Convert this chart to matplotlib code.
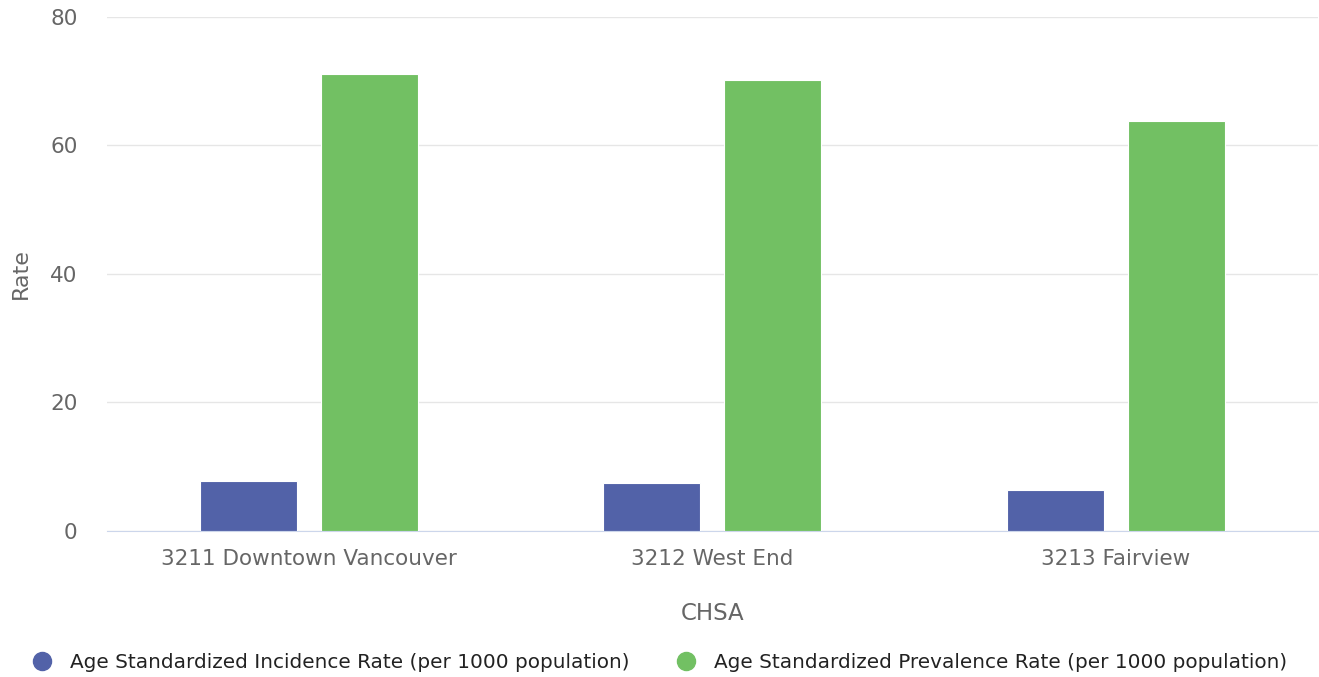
import numpy as np
import matplotlib.pyplot as plt
from matplotlib.lines import Line2D

categories = ['3211 Downtown Vancouver', '3212 West End', '3213 Fairview']
incidence = [7.7, 7.4, 6.3]
prevalence = [71.1, 70.2, 63.8]
series_names = ['Age Standardized Incidence Rate (per 1000 population)',
                'Age Standardized Prevalence Rate (per 1000 population)']
colors = ['#5262a8', '#72c063']
yticks = [0, 20, 40, 60, 80]

fig = plt.figure(figsize=(13.19, 6.77), dpi=100)
ax = fig.add_axes([0.081, 0.2157, 0.918, 0.7593])

x = np.arange(len(categories))
w = 0.24
gap = 0.06
ax.bar(x - (w + gap) / 2, incidence, width=w, color=colors[0], edgecolor='white', linewidth=0.8, zorder=3)
ax.bar(x + (w + gap) / 2, prevalence, width=w, color=colors[1], edgecolor='white', linewidth=0.8, zorder=3)

ax.set_xlim(-0.5, len(categories) - 0.5)
ax.set_ylim(0, 80)
ax.set_yticks(yticks)
ax.set_xticks(x)
ax.set_xticklabels(categories)
ax.grid(axis='y', color='#e6e6e6', linewidth=1, zorder=0)
for s in ['top', 'right', 'left']:
    ax.spines[s].set_visible(False)
ax.spines['bottom'].set_color('#ccd6eb')
ax.tick_params(axis='x', length=0, pad=13, labelsize=15.5, colors='#666666')
ax.tick_params(axis='y', length=0, pad=21, labelsize=15.5, colors='#666666')
ax.set_xlabel('CHSA', fontsize=16.5, color='#666666', labelpad=24)
ax.set_ylabel('Rate', fontsize=16, color='#666666', labelpad=14)

handles = [Line2D([], [], marker='o', linestyle='none', markersize=13,
                  markerfacecolor=c, markeredgecolor=c) for c in colors]
leg = fig.legend(handles, series_names, loc='center', bbox_to_anchor=(0.5, 0.022),
                 ncol=2, frameon=False, fontsize=14.4, handlelength=1.0,
                 handletextpad=0.9, columnspacing=2.3)
for t in leg.get_texts():
    t.set_color('#222222')

fig.savefig('out.png', dpi=100)
